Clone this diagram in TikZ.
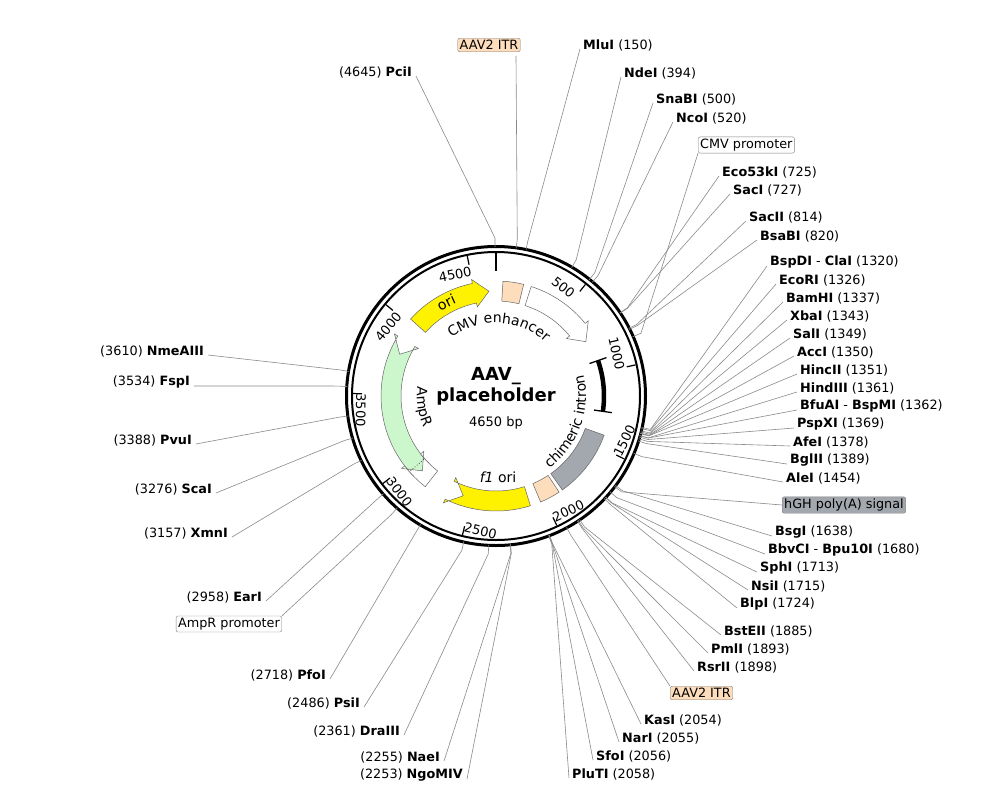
\documentclass[tikz,border=0pt]{standalone}
\usepackage{fontspec}
\setmainfont{DejaVu Sans}
\usetikzlibrary{decorations.text}
\definecolor{itr}{HTML}{FDDDBB}
\definecolor{ampr}{HTML}{CCF7CC}
\definecolor{hgh}{HTML}{A3A7AE}
\definecolor{sline}{HTML}{8A8A8A}
\tikzset{
 sl/.style={draw=sline,line width=0.6pt},
 lab/.style={inner sep=0pt,font=\fontsize{12.8}{14}\selectfont},
 fbox/.style={draw=gray,rounded corners=2pt,inner sep=2pt,font=\fontsize{12.8}{14}\selectfont},
 feat/.style={draw=gray!80!black,line width=0.5pt},
}
\newcommand\sR[5]{%
 \coordinate (e#1) at ({#2-499},{392-#3});
 \draw[sl] ({90-#1*0.0774194}:149) -- ({90-#1*0.0774194}:158) -- (e#1);
 \node[lab,anchor=west] (l#1) at ({#2-496},{396-#3}) {\textbf{#4}\ (#5)};}
\newcommand\sL[5]{%
 \coordinate (e#1) at ({#2-492},{392-#3});
 \draw[sl] ({90-#1*0.0774194}:149) -- ({90-#1*0.0774194}:158) -- (e#1);
 \node[lab,anchor=east] (l#1) at ({#2-496},{396-#3}) {(#5)\ \textbf{#4}};}
\newcommand\featA[4]{%
 \pgfmathsetmacro\fa{90-#1*0.0774194}%
 \pgfmathsetmacro\fb{90-#2*0.0774194}%
 \pgfmathsetmacro\fh{\fb+#3*8}%
 \path[feat,#4] (\fa:115) arc[start angle=\fa,end angle=\fh,radius=115] -- (\fh:119) -- (\fb:105) -- (\fh:91) -- (\fh:95) arc[start angle=\fh,end angle=\fa,radius=95] -- cycle;}
\newcommand\featB[3]{%
 \pgfmathsetmacro\fa{90-#1*0.0774194}%
 \pgfmathsetmacro\fb{90-#2*0.0774194}%
 \path[feat,#3] (\fa:115) arc[start angle=\fa,end angle=\fb,radius=115] -- (\fb:95) arc[start angle=\fb,end angle=\fa,radius=95] -- cycle;}
\begin{document}
\begin{tikzpicture}[x=1pt,y=1pt]
\useasboundingbox[fill=white] (-496,-408) rectangle (496,396);
\featB{45}{180}{fill=itr}
\featA{230}{760}{1}{fill=white}
\featB{1420}{1870}{fill=hgh}
\featB{1895}{2030}{fill=itr}
\featA{2100}{2560}{-1}{fill=yellow}
\featA{2905}{3790}{-1}{fill=ampr}
\featA{2815}{2900}{-1}{fill=white}
\featA{4030}{4600}{1}{fill=yellow}
\draw[black!70,dotted,line width=0.8pt] ({90-2955*0.0774194}:96) -- ({90-2955*0.0774194}:114);
\draw[line width=4.5pt] ({90-915*0.0774194}:108) arc[start angle={90-915*0.0774194},end angle={90-1268*0.0774194},radius=108];
\draw[line width=1.3pt] ({90-915*0.0774194}:99) -- ({90-915*0.0774194}:117);
\draw[line width=1.3pt] ({90-1268*0.0774194}:99) -- ({90-1268*0.0774194}:117);
\path[decorate,decoration={text along path,text align=center,text={|\fontsize{14}{16}\selectfont|CMV enhancer}}] (134:73) arc[start angle=134,end angle=41,radius=73];
\path[decorate,decoration={text along path,text align=center,text={|\fontsize{14}{16}\selectfont|ori}}] (135:101) arc[start angle=135,end angle=101,radius=101];
\path[decorate,decoration={text along path,text align=center,text={|\fontsize{14}{16}\selectfont|AmpR}}] (160:79) arc[start angle=160,end angle=217,radius=79];
\path[decorate,decoration={text along path,text align=center,text={|\fontsize{14}{16}\selectfont|chimeric intron}}] (-64:90) arc[start angle=-64,end angle=24,radius=90];
\node[font=\fontsize{14}{16}\selectfont] (f1lab) at (2,-81) {\textit{f1} ori};
\node[font=\bfseries\fontsize{18}{21}\selectfont,align=center] (title) at (0,10) {AAV\_\\placeholder};
\node[font=\fontsize{13}{15}\selectfont] (bp) at (0,-27) {4650 bp};
\draw[line width=3pt] (0,0) circle[radius=149.5];
\draw[line width=2pt] (0,0) circle[radius=144];
\draw[line width=2pt] (0,143) -- (0,125);
\foreach \p in {500,1000,...,4500}{
 \pgfmathsetmacro\th{\p*0.0774194}
 \pgfmathsetmacro\rot{(\th>100 && \th<280) ? 180-\th : -\th}
 \pgfmathsetmacro\rr{(\th>100 && \th<280) ? 136 : 128}
 \draw[line width=1.2pt] ({90-\th}:143) -- ({90-\th}:134);
 \node[font=\fontsize{13}{15}\selectfont,rotate=\rot,inner sep=0pt] at ({97-\th}:\rr) {\p};
}
\sR{150}{583}{45}{MluI}{150}
\sR{394}{624}{73}{NdeI}{394}
\sR{500}{656}{99}{SnaBI}{500}
\sR{520}{676}{118}{NcoI}{520}
\sR{725}{722}{172}{Eco53kI}{725}
\sR{727}{733}{190}{SacI}{727}
\sR{814}{749}{217}{SacII}{814}
\sR{820}{760}{236}{BsaBI}{820}
\sR{1320}{770}{262}{BspDI\textmd{ - }ClaI}{1320}
\sR{1326}{779}{280}{EcoRI}{1326}
\sR{1337}{786}{298}{BamHI}{1337}
\sR{1343}{790}{316}{XbaI}{1343}
\sR{1349}{793}{334}{SalI}{1349}
\sR{1350}{797}{352}{AccI}{1350}
\sR{1351}{800}{370}{HincII}{1351}
\sR{1361}{800}{388}{HindIII}{1361}
\sR{1362}{800}{406}{BfuAI\textmd{ - }BspMI}{1362}
\sR{1369}{797}{424}{PspXI}{1369}
\sR{1378}{793}{442}{AfeI}{1378}
\sR{1389}{790}{460}{BglII}{1389}
\sR{1454}{786}{478}{AleI}{1454}
\sR{1638}{775}{532}{BsgI}{1638}
\sR{1680}{768}{550}{BbvCI\textmd{ - }Bpu10I}{1680}
\sR{1713}{760}{568}{SphI}{1713}
\sR{1715}{751}{586}{NsiI}{1715}
\sR{1724}{740}{604}{BlpI}{1724}
\sR{1885}{724}{631}{BstEII}{1885}
\sR{1893}{711}{649}{PmlI}{1893}
\sR{1898}{697}{667}{RsrII}{1898}
\sR{2054}{644}{720}{KasI}{2054}
\sR{2055}{622}{738}{NarI}{2055}
\sR{2056}{596}{756}{SfoI}{2056}
\sR{2058}{572}{774}{PluTI}{2058}
\sL{4645}{412}{72}{PciI}{4645}
\sL{3610}{204}{351}{NmeAIII}{3610}
\sL{3534}{190}{382}{FspI}{3534}
\sL{3388}{192}{440}{PvuI}{3388}
\sL{3276}{212}{489}{ScaI}{3276}
\sL{3157}{228}{533}{XmnI}{3157}
\sL{2958}{262}{597}{EarI}{2958}
\sL{2718}{326}{675}{PfoI}{2718}
\sL{2486}{360}{703}{PsiI}{2486}
\sL{2361}{400}{731}{DraIII}{2361}
\sL{2255}{440}{757}{NaeI}{2255}
\sL{2253}{463}{775}{NgoMIV}{2253}
\node[fbox,fill=itr] (itr1) at (-7,351) {AAV2 ITR};
\draw[sl] ({90-100*0.0774194}:149) -- ({90-100*0.0774194}:158) -- (20,340);
\node[fbox,fill=white,anchor=west] (cmvp) at (202,251) {CMV promoter};
\draw[sl] ({90-860*0.0774194}:149) -- ({90-860*0.0774194}:158) -- (cmvp.south west);
\node[fbox,fill=hgh,anchor=west] (hgh) at (286,-109) {hGH poly(A) signal};
\draw[sl] ({90-1645*0.0774194}:149) -- ({90-1645*0.0774194}:158) -- (hgh.west);
\node[fbox,fill=itr,anchor=west] (itr2) at (174,-297) {AAV2 ITR};
\draw[sl] ({90-1960*0.0774194}:149) -- ({90-1960*0.0774194}:158) -- (itr2.north west);
\node[fbox,fill=white,anchor=east] (amprp) at (-214,-228) {AmpR promoter};
\draw[sl] ({90-2860*0.0774194}:149) -- ({90-2860*0.0774194}:158) -- (amprp.north east);
\end{tikzpicture}
\end{document}
